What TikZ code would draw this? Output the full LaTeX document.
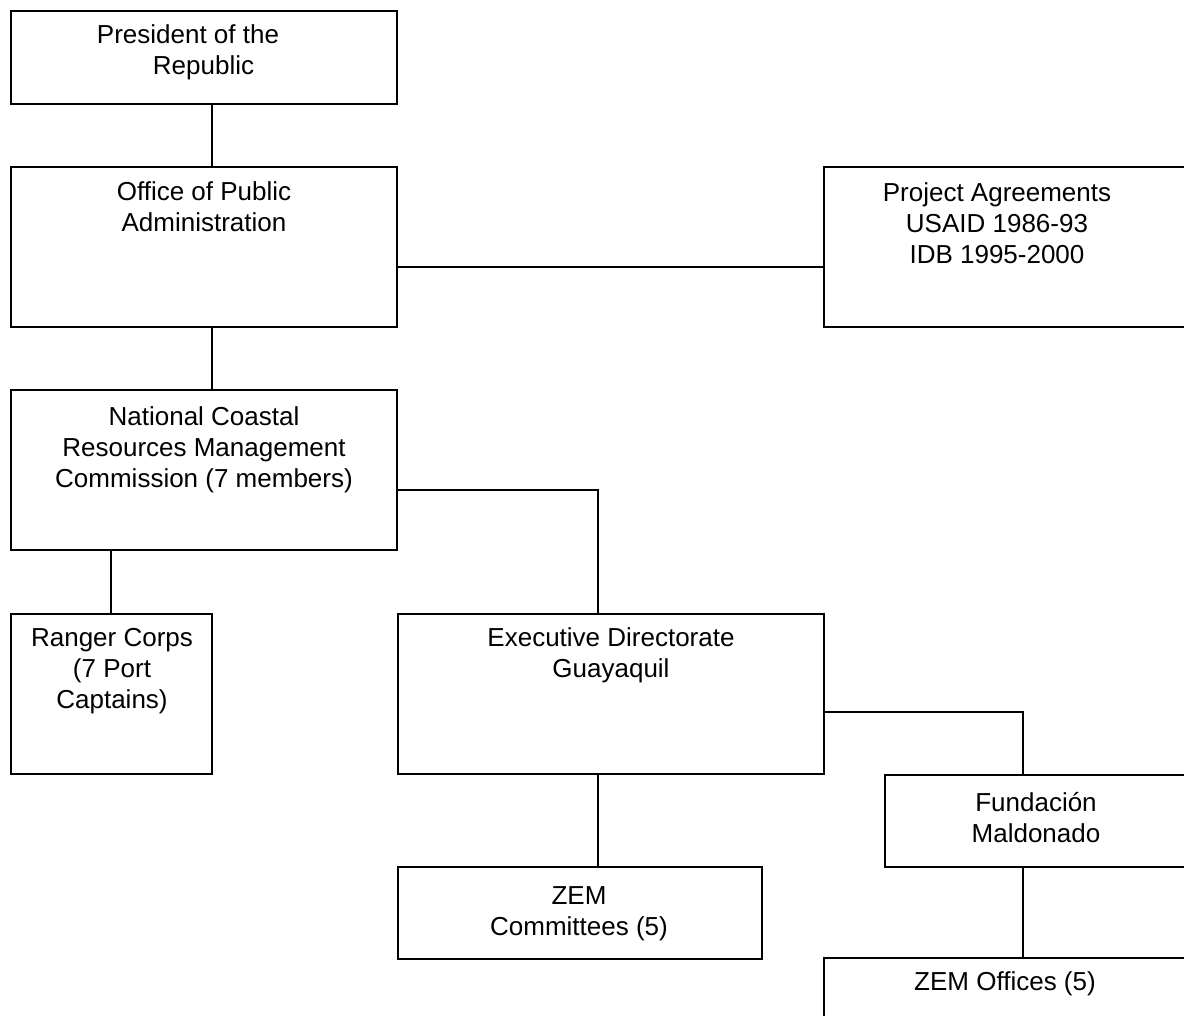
\documentclass[tikz,border=0pt]{standalone}
\usepackage{fontspec}
\setmainfont{Liberation Sans}
\begin{document}
\tikzset{
  box/.style={draw, line width=2pt, rectangle, inner sep=0pt, outer sep=0pt, anchor=north west},
  lbl/.style={anchor=north, inner sep=0pt, outer sep=0pt, align=center, font=\fontsize{26}{31}\selectfont},
  conn/.style={line width=2pt}
}
\begin{tikzpicture}[x=1pt,y=-1pt]
\clip (0,0) rectangle (1184,1016);
% boxes
\node[box, minimum width=386pt, minimum height=92.5pt] (pres) at (11,11.5) {};
\node[box, minimum width=386pt, minimum height=160pt] (opa) at (11,167) {};
\node[box, minimum width=400pt, minimum height=160pt] (proj) at (824,167) {};
\node[box, minimum width=386pt, minimum height=160pt] (ncrm) at (11,390) {};
\node[box, minimum width=201pt, minimum height=160pt] (ranger) at (11,614) {};
\node[box, minimum width=426pt, minimum height=160pt] (exec) at (398,614) {};
\node[box, minimum width=320pt, minimum height=92pt] (fund) at (885,775) {};
\node[box, minimum width=364pt, minimum height=92pt] (zemc) at (398,867) {};
\node[box, minimum width=400pt, minimum height=120pt] (zemo) at (824,958) {};
% labels
\node[lbl] (pres-t) at (203.5,25) {President of the\hspace*{31pt}\\Republic};
\node[lbl] (opa-t) at (204,182) {Office of Public\\Administration};
\node[lbl] (proj-t) at (997,183) {Project Agreements\\USAID 1986-93\\IDB 1995-2000};
\node[lbl] (ncrm-t) at (204,407) {National Coastal\\Resources Management\\Commission (7 members)};
\node[lbl] (ranger-t) at (112,628) {Ranger Corps\\(7 Port\\Captains)};
\node[lbl] (exec-t) at (611,628) {Executive Directorate\\Guayaquil};
\node[lbl] (fund-t) at (1036,792) {Fundación\\Maldonado};
\node[lbl] (zemc-t) at (579,887) {ZEM\\Committees (5)};
\node[lbl] (zemo-t) at (1005,972) {ZEM Offices (5)};
% connector guides
\coordinate (vx1) at (212,0);
\coordinate (vx2) at (598,0);
\coordinate (vx3) at (1023,0);
\coordinate (vx4) at (111,0);
\coordinate (hy1) at (0,267);
\coordinate (hy2) at (0,490);
\coordinate (hy3) at (0,712);
% connectors
\draw[conn] (pres.south -| vx1) -- (opa.north -| vx1);
\draw[conn] (opa.south -| vx1) -- (ncrm.north -| vx1);
\draw[conn] (opa.east |- hy1) -- (proj.west |- hy1);
\draw[conn] (ncrm.east |- hy2) -| (exec.north -| vx2);
\draw[conn] (ncrm.south -| vx4) -- (ranger.north -| vx4);
\draw[conn] (exec.south -| vx2) -- (zemc.north -| vx2);
\draw[conn] (exec.east |- hy3) -| (fund.north -| vx3);
\draw[conn] (fund.south -| vx3) -- (zemo.north -| vx3);
\end{tikzpicture}
\end{document}
